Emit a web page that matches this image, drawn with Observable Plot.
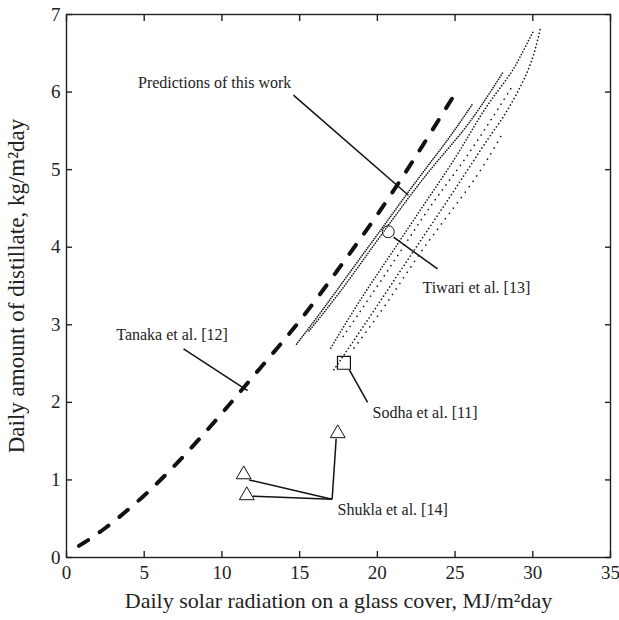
<!DOCTYPE html>
<html>
<head>
<meta charset="utf-8">
<script src="https://cdn.jsdelivr.net/npm/d3@7"></script>
<script src="https://cdn.jsdelivr.net/npm/@observablehq/plot@0.6"></script>
<style>
  body { margin: 0; background: #fff; }
  #chart svg { display: block; }
</style>
</head>
<body>
<div id="chart"></div>
<script>
// ---- data ----
const xTicks = [0, 5, 10, 15, 20, 25, 30, 35];
const yTicks = [0, 1, 2, 3, 4, 5, 6, 7];

// Tanaka et al. [12] (thick dashed)
const tanaka = [[0.8,0.15],[2.5,0.38],[5,0.8],[7.5,1.3],[10,1.86],[12.5,2.45],[15,3.05],[17.5,3.72],[20,4.42],[22.5,5.18],[25,5.98]];

// Predictions of this work (dotted family)
const pred1 = [[14.8,2.75],[16.5,3.2],[18.5,3.75],[20.5,4.3],[22.5,4.85],[24.5,5.38],[26.1,5.84]];
const pred2 = [[15.6,2.92],[17.5,3.4],[19.5,3.95],[21.5,4.5],[23.5,5.02],[25.5,5.5],[27,5.92],[28.1,6.26]];
const pred3 = [[17,2.7],[19,3.35],[21,3.95],[23,4.55],[25,5.15],[26.6,5.68],[27.7,6.0],[28.6,6.25],[29.2,6.46],[30,6.77]];
const pred4 = [[17.2,2.42],[19,2.95],[21,3.55],[23,4.15],[25,4.75],[27.1,5.39],[28.1,5.68],[29.2,6.07],[30,6.45],[30.5,6.83]];
const pred5 = [[17.8,2.85],[19.5,3.35],[21.5,3.95],[23.5,4.55],[25.5,5.1],[27.5,5.7],[28.6,6.05]];
const pred6 = [[18.5,2.7],[20.5,3.25],[22.5,3.85],[24.5,4.4],[26.5,4.95],[28,5.45]];

// experimental points
const tiwari = [[20.7, 4.2]];
const sodha = [[17.85, 2.51]];
const shukla = [[11.4, 1.07], [11.6, 0.80], [17.45, 1.6]];

// annotation labels and leaders
const labels = [
  {text: "Predictions of this work", x: 4.6, y: 6.12},
  {text: "Tanaka et al. [12]", x: 3.2, y: 2.87},
  {text: "Tiwari et al. [13]", x: 22.9, y: 3.48},
  {text: "Sodha et al. [11]", x: 19.69, y: 1.86},
  {text: "Shukla et al. [14]", x: 17.44, y: 0.61}
];
const leaders = [
  {x1: 14.6, y1: 5.96, x2: 22.0, y2: 4.67},
  {x1: 7.53, y1: 2.69, x2: 11.65, y2: 2.15},
  {x1: 21.04, y1: 4.13, x2: 23.87, y2: 3.72},
  {x1: 18.2, y1: 2.42, x2: 19.37, y2: 2.0},
  {x1: 11.75, y1: 1.0, x2: 17.09, y2: 0.75},
  {x1: 12.0, y1: 0.79, x2: 17.09, y2: 0.75},
  {x1: 17.09, y1: 0.75, x2: 17.35, y2: 1.53}
];

const xTitle = "Daily solar radiation on a glass cover, MJ/m²day";
const yTitle = "Daily amount of distillate, kg/m²day";

const line = (data, opts) => Plot.line(data, {x: d => d[0], y: d => d[1], curve: "natural", stroke: "#111", strokeLinecap: "round", ...opts});

const chart = Plot.plot({
  width: 619,
  height: 620,
  marginLeft: 66,
  marginRight: 9,
  marginTop: 14,
  marginBottom: 63,
  style: {fontFamily: "'Liberation Serif', 'Times New Roman', serif", background: "#fff", color: "#222"},
  x: {domain: [0, 35]},
  y: {domain: [0, 7]},
  marks: [
    Plot.frame({stroke: "#222", strokeWidth: 1.4}),
    Plot.axisX({ticks: xTicks, tickSize: -6, tickPadding: 14, fontSize: 19, tickFormat: d3.format("d"), label: null, stroke: "#222", strokeWidth: 1.4}),
    Plot.axisX({anchor: "top", ticks: xTicks, tickSize: -6, tickFormat: () => "", label: null, stroke: "#222", strokeWidth: 1.4}),
    Plot.axisY({ticks: yTicks, tickSize: -6, tickPadding: 12, fontSize: 19, tickFormat: d3.format("d"), label: null, stroke: "#222", strokeWidth: 1.4}),
    Plot.axisY({anchor: "right", ticks: yTicks, tickSize: -6, tickFormat: () => "", label: null, stroke: "#222", strokeWidth: 1.4}),
    Plot.text([xTitle], {frameAnchor: "bottom", dy: 50, fontSize: 22, fill: "#222"}),
    Plot.text([yTitle], {frameAnchor: "left", textAnchor: "middle", dx: -50, rotate: -90, fontSize: 23, fill: "#222"}),
    line(tanaka, {strokeWidth: 4, strokeDasharray: "11,14"}),
    line(pred1, {strokeWidth: 1.6, strokeDasharray: "0.1,2.2"}),
    line(pred2, {strokeWidth: 1.6, strokeDasharray: "0.1,2.4"}),
    line(pred3, {strokeWidth: 1.6, strokeDasharray: "0.1,3"}),
    line(pred4, {strokeWidth: 1.6, strokeDasharray: "0.1,3.6"}),
    line(pred5, {strokeWidth: 1.6, strokeDasharray: "0.1,6"}),
    line(pred6, {strokeWidth: 1.6, strokeDasharray: "0.1,6.5"}),
    Plot.link(leaders, {x1: "x1", y1: "y1", x2: "x2", y2: "y2", stroke: "#111", strokeWidth: 1.5}),
    Plot.dot(tiwari, {x: d => d[0], y: d => d[1], r: 6, stroke: "#111", strokeWidth: 1, fill: "none"}),
    Plot.dot(sodha, {x: d => d[0], y: d => d[1], r: 7.3, symbol: "square", stroke: "#111", strokeWidth: 1.2, fill: "none"}),
    Plot.dot(shukla, {x: d => d[0], y: d => d[1], r: 5.5, symbol: "triangle", stroke: "#111", strokeWidth: 1, fill: "#fff"}),
    Plot.text(labels, {x: "x", y: "y", text: "text", textAnchor: "start", fontSize: 16, fill: "#222"})
  ]
});
document.getElementById("chart").append(chart);
</script>
</body>
</html>
